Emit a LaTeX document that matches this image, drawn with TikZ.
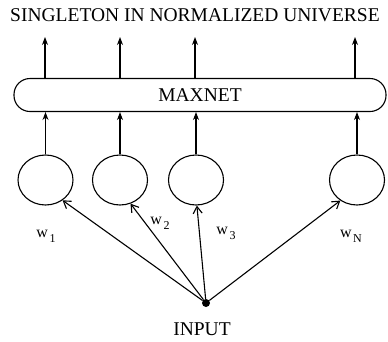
\documentclass[tikz,border=0pt]{standalone}
\usepackage{fontspec}
\setmainfont{Liberation Serif}
\usetikzlibrary{arrows.meta,shapes.geometric}

\newcommand{\wsub}[1]{w\kern1.5pt\raisebox{-5pt}{\fontsize{12}{13}\selectfont #1}}

\begin{document}
\begin{tikzpicture}[x=1pt,y=-1pt]
\tikzset{
  unit/.style={ellipse,draw,line width=1.1pt,minimum width=55pt,minimum height=50pt,inner sep=0pt},
  netbox/.style={draw,line width=1.1pt,rounded corners=16pt,minimum width=372pt,minimum height=33pt,inner sep=0pt,font=\fontsize{19.5}{21}\selectfont},
  upline/.style={-{Stealth[length=8pt,width=6pt]},line width=1.1pt},
  weight/.style={-{Straight Barb[length=7pt,width=9pt]},line width=1.1pt},
  caption/.style={font=\fontsize{19.5}{21}\selectfont,inner sep=0pt},
  wlabel/.style={font=\fontsize{16}{18}\selectfont,inner sep=0pt}
}
\useasboundingbox (0,0) rectangle (388,341);
\node[caption] (title) at (195,15) {SINGLETON IN NORMALIZED UNIVERSE};
\node[netbox] (maxnet) at (200,95) {MAXNET};
\node[unit] (c_1) at (45.5,180) {};
\node[unit] (c_2) at (120,180) {};
\node[unit] (c_3) at (196,180) {};
\node[unit] (c_N) at (357,180) {};
\node[circle,fill,inner sep=0pt,minimum size=8pt] (input) at (206,303) {};
\node[caption] (inlabel) at (202,329) {INPUT};
% outputs of the maxnet
\coordinate (o_1) at (45,37);
\coordinate (o_2) at (120,37);
\coordinate (o_3) at (195,37);
\coordinate (o_N) at (355,37);
\foreach \i in {1,2,3,N} {
  \draw[upline] (c_\i.north) -- (c_\i.north |- maxnet.south);
  \draw[upline] (maxnet.north -| o_\i) -- (o_\i);
}
% weighted inputs
\draw[weight] (input) -- (c_1.-50);
\draw[weight] (input) -- (c_2.-66);
\draw[weight] (input) -- (c_3.-88);
\draw[weight] (input) -- (c_N.-129);
\node[wlabel] (w_1) at (46,236) {\wsub{1}};
\node[wlabel] (w_2) at (160,223) {\wsub{2}};
\node[wlabel] (w_3) at (226,233) {\wsub{3}};
\node[wlabel] (w_N) at (351,236) {\wsub{N}};
\end{tikzpicture}
\end{document}
